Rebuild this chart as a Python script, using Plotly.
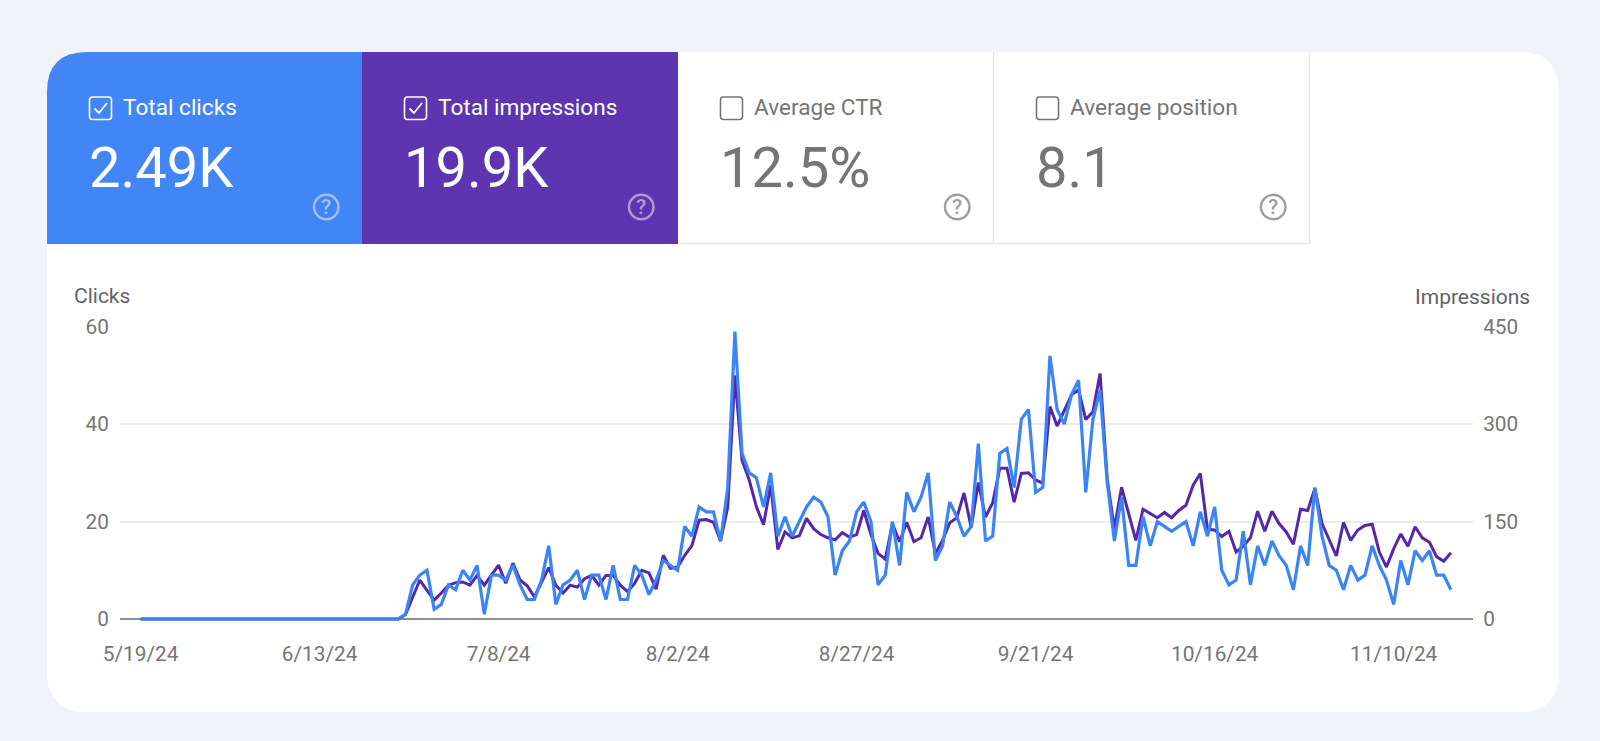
import pandas as pd
import plotly.graph_objects as go

W, H = 1600, 741

# daily values, 5/19/24 to 11/18/24
clicks = [
    0, 0, 0, 0, 0, 0, 0, 0, 0, 0, 0, 0, 0, 0, 0, 0, 0, 0, 0, 0, 0, 0, 0, 0, 0, 0, 0, 0, 0, 0, 0, 0, 0, 0, 0, 0, 0,
    1, 7, 9, 10, 2, 3, 7, 6, 10, 8, 11, 1, 9, 9, 8, 11, 7, 4, 4, 8, 15, 3, 7, 8, 10, 4, 9, 9, 4, 11, 4, 4, 11, 9,
    5, 8, 12, 11, 10, 19, 17, 23, 22, 22, 16, 27,
    59, 34, 30, 29, 23, 30, 17, 21, 17, 20, 23, 25, 24, 21, 9, 14, 16, 22, 24, 20, 7, 9, 20, 11, 26, 22, 25, 30,
    12, 15, 24, 21, 17, 19, 36, 16, 17, 34, 35, 27, 41, 43, 26, 27, 54, 43, 40, 46, 49,
    26, 41, 47, 28, 16, 25, 11, 11, 21, 15, 20, 19, 18, 19, 20, 15, 22, 17, 23, 10, 7, 8, 18, 7, 15, 11, 16, 13,
    11, 6, 15, 11, 27, 17, 11, 10, 6, 11, 8, 9, 15, 11, 8, 3, 12, 7, 14, 12, 14, 9, 9, 6,
]
impressions = [
    0, 0, 0, 0, 0, 0, 0, 0, 0, 0, 0, 0, 0, 0, 0, 0, 0, 0, 0, 0, 0, 0, 0, 0, 0, 0, 0, 0, 0, 0, 0, 0, 0, 0, 0, 0, 0,
    7, 34, 60, 44, 29, 40, 52, 56, 57, 52, 67, 52, 67, 83, 55, 86, 60, 51, 34, 57, 79, 52, 40, 52, 49, 62, 67, 52,
    67, 67, 52, 42, 55, 75, 71, 46, 98, 78, 80, 98, 113, 152, 153, 149, 120, 172,
    375, 244, 214, 173, 145, 206, 107, 134, 125, 128, 155, 139, 130, 125, 122, 133, 126, 130, 167, 130, 101, 92,
    147, 119, 149, 119, 125, 157, 101, 121, 148, 156, 194, 141, 210, 157, 179, 232, 232, 180, 224, 225, 214, 209,
    327, 297, 322, 345, 353,
    307, 319, 378, 215, 139, 203, 160, 121, 169, 162, 156, 164, 156, 167, 175, 206, 224, 138, 137, 127, 135, 103,
    112, 125, 166, 135, 166, 147, 134, 115, 169, 167, 201, 147, 121, 97, 149, 121, 137, 144, 146, 103, 80, 108,
    131, 112, 142, 125, 118, 96, 89, 102,
]
dates = pd.date_range("2024-05-19", periods=len(clicks))

tick_dates = ["2024-05-19", "2024-06-13", "2024-07-08", "2024-08-02", "2024-08-27", "2024-09-21", "2024-10-16", "2024-11-10"]
tick_labels = ["5/19/24", "6/13/24", "7/8/24", "8/2/24", "8/27/24", "9/21/24", "10/16/24", "11/10/24"]
clicks_ticks = [0, 20, 40, 60]
impressions_ticks = [0, 150, 300, 450]

tile_labels = ["Total clicks", "Total impressions", "Average CTR", "Average position"]
tile_values = ["2.49K", "19.9K", "12.5%", "8.1"]
tile_left = [47, 362, 678, 994]

BG = "#F0F4F9"
BLUE = "#4285F4"
PURPLE = "#5E35B1"
GREY = "#757575"
FONT = "Roboto"


def px(x):
    return x / W


def py(y):
    return 1 - y / H


def round_rect(x0, y0, x1, y1, tl=0, tr=0, br=0, bl=0):
    # rounded box given in page pixels, as a path in paper coordinates
    p = "M {} {} L {} {} ".format(px(x0 + tl), py(y0), px(x1 - tr), py(y0))
    p += "Q {} {} {} {} ".format(px(x1), py(y0), px(x1), py(y0 + tr))
    p += "L {} {} ".format(px(x1), py(y1 - br))
    p += "Q {} {} {} {} ".format(px(x1), py(y1), px(x1 - br), py(y1))
    p += "L {} {} ".format(px(x0 + bl), py(y1))
    p += "Q {} {} {} {} ".format(px(x0), py(y1), px(x0), py(y1 - bl))
    p += "L {} {} ".format(px(x0), py(y0 + tl))
    p += "Q {} {} {} {} Z".format(px(x0), py(y0), px(x0 + tl), py(y0))
    return p


shapes = []
annotations = []


def add_path(path, fill="rgba(0,0,0,0)", color="rgba(0,0,0,0)", width=0):
    shapes.append(dict(type="path", path=path, xref="paper", yref="paper", layer="below",
                       fillcolor=fill, line=dict(color=color, width=width)))


def add_text(text, x, y, size, color, anchor="left", weight=400):
    annotations.append(dict(text=text, x=px(x), y=py(y), xref="paper", yref="paper", showarrow=False,
                            xanchor=anchor, yanchor="middle", borderpad=0,
                            font=dict(family=FONT, size=size, color=color, weight=weight)))


# card
add_path(round_rect(47, 52, 1559, 712, 40, 40, 40, 40), fill="white")

# tiles
add_path(round_rect(47, 52, 362, 244, tl=40), fill=BLUE)
add_path(round_rect(362, 52, 678, 244), fill=PURPLE)
for path_pts in [[(678, 243.5), (1309.5, 243.5), (1309.5, 52)], [(993.5, 52), (993.5, 243.5)]]:
    p = "M {} {}".format(px(path_pts[0][0]), py(path_pts[0][1]))
    for a, b in path_pts[1:]:
        p += " L {} {}".format(px(a), py(b))
    add_path(p, color="#E6E6E6", width=1.5)

for i, left in enumerate(tile_left):
    selected = i < 2
    fg = "white" if selected else GREY
    box_x = left + 42.5
    add_path(round_rect(box_x, 97, box_x + 22, 119.5, 3, 3, 3, 3), color=fg, width=1.6)
    if selected:
        check = "M {} {} L {} {} L {} {}".format(px(box_x + 5), py(108.5), px(box_x + 9.5), py(113), px(box_x + 17.5), py(103))
        add_path(check, color="white", width=1.8)
    add_text(tile_labels[i], left + (74.5 if selected else 75), 107, 22.6, fg)
    add_text(tile_values[i], left + 41, 168, 56, fg)
    # help icon
    help_col = "rgba(255,255,255,0.5)" if selected else "#9E9E9E"
    shapes.append(dict(type="circle", xref="paper", yref="paper", layer="below",
                       x0=px(left + 267), x1=px(left + 291.5), y0=py(207 + 12.2), y1=py(207 - 12.2),
                       line=dict(color=help_col, width=2.4)))
    add_text("?", left + 279.2, 207, 21, help_col, anchor="center", weight=500)

add_text("Clicks", 72.5, 296.5, 21, "#5F6368")
add_text("Impressions", 1531, 297, 21, "#5F6368", anchor="right")

fig = go.Figure()
# impressions sit on the first y axis so the clicks line draws on top of them
fig.add_trace(go.Scatter(x=dates, y=impressions, mode="lines", name="Impressions",
                         line=dict(color="#5528A8", width=3), yaxis="y"))
fig.add_trace(go.Scatter(x=dates, y=clicks, mode="lines", name="Clicks",
                         line=dict(color="#3B84F6", width=3.2), yaxis="y2"))

# y ranges run a little below zero so the line on the baseline is not clipped
y_domain = [py(622), py(326.7)]
fig.update_layout(
    width=W, height=H,
    margin=dict(l=0, r=0, t=0, b=0, autoexpand=False),
    paper_bgcolor=BG, plot_bgcolor="rgba(0,0,0,0)",
    showlegend=False, hovermode=False,
    shapes=shapes, annotations=annotations,
    font=dict(family=FONT, size=20.8, color=GREY),
    xaxis=dict(
        type="date", domain=[px(120), px(1473)],
        range=["2024-05-16 03:00", "2024-11-21 02:00"],
        tickmode="array", tickvals=tick_dates, ticktext=tick_labels,
        showgrid=False, zeroline=False, showline=False,
        ticks="outside", ticklen=13, tickcolor="rgba(0,0,0,0)",
    ),
    yaxis=dict(
        domain=y_domain, side="right", range=[-4.62, 450], anchor="x",
        tickmode="array", tickvals=impressions_ticks,
        showgrid=True, gridcolor="#ECECEC", gridwidth=1.5,
        zeroline=True, zerolinecolor="#8F8F8F", zerolinewidth=1.5,
        ticks="outside", ticklen=5, tickcolor="rgba(0,0,0,0)",
    ),
    yaxis2=dict(
        domain=y_domain, side="left", overlaying="y", range=[-0.616, 60], anchor="x",
        tickmode="array", tickvals=clicks_ticks,
        showgrid=False, zeroline=False,
        ticks="outside", ticklen=6, tickcolor="rgba(0,0,0,0)",
    ),
)

fig.write_html("out.html", config={"displayModeBar": False},
               post_script="document.body.style.margin='0';document.body.style.background='" + BG + "';")
